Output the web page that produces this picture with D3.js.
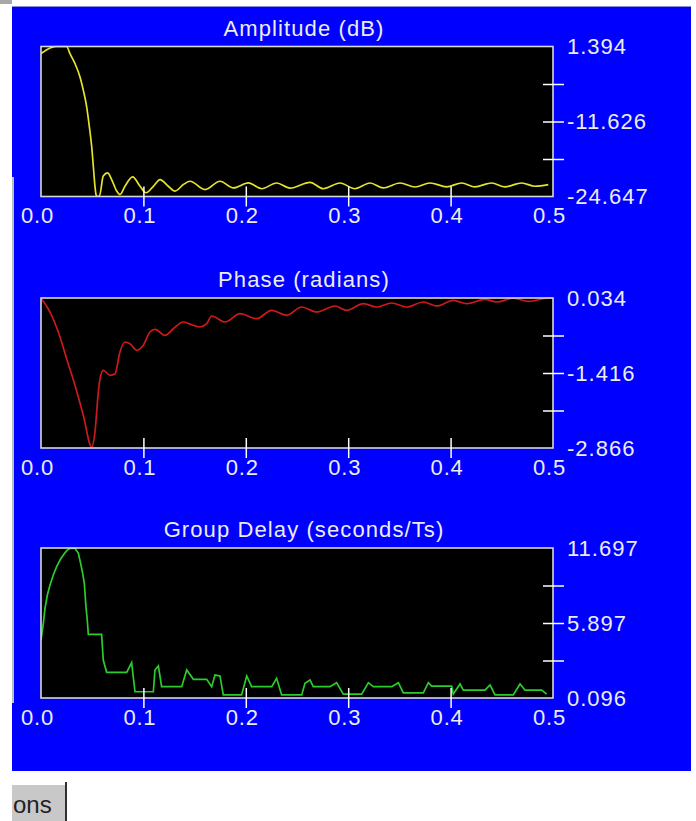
<!DOCTYPE html>
<html>
<head>
<meta charset="utf-8">
<script src="https://cdn.jsdelivr.net/npm/d3@7"></script>
<style>
  body { margin: 0; background: #fff; overflow: hidden; }
</style>
</head>
<body>
<script>
// shared frequency axis (normalised, 0 .. 0.5)
const freqTicks = [0, 0.1, 0.2, 0.3, 0.4, 0.5]

// amplitude response (dB)
const ampFreq = [0, 0.0056, 0.0104, 0.015, 0.025, 0.0283, 0.0332, 0.0381, 0.0413, 0.0446,
  0.0472, 0.0495, 0.0511, 0.0527, 0.0537, 0.0545, 0.057, 0.0608, 0.0651, 0.069,
  0.0739, 0.0771, 0.082, 0.0895, 0.0967, 0.1025, 0.1097, 0.1162, 0.1243, 0.1309,
  0.139, 0.1455, 0.1602, 0.1748, 0.1878, 0.2025, 0.2155, 0.230, 0.2432, 0.2627,
  0.2757, 0.292, 0.3066, 0.3213, 0.3343, 0.3506, 0.3652, 0.3799, 0.3962, 0.4108,
  0.4238, 0.4401, 0.4531, 0.4694, 0.4824, 0.4954]
const ampDb = [0.15, 0.83, 1.25, 1.39, 1.39, 0.14, -1.59, -3.9, -6.19, -9.07,
  -12.5, -15.97, -19.4, -22.87, -24.3, -24.6, -24.6, -21.1, -20.56, -21.7,
  -23.7, -24.3, -22.87, -21.25, -22.87, -24.0, -22.87, -21.7, -22.87, -23.7,
  -22.58, -22.0, -23.44, -22.0, -23.15, -22.29, -23.3, -22.3, -23.2, -22.18,
  -23.3, -22.3, -23.3, -22.3, -23.15, -22.3, -23.0, -22.3, -22.97, -22.3,
  -22.97, -22.3, -22.97, -22.3, -22.87, -22.58]
const ampDomain = [-24.647, 1.394]
const ampLabels = ['1.394', '-11.626', '-24.647']

// phase response (radians)
const phaseFreq = [0, 0.0088, 0.0169, 0.025, 0.0332, 0.0413, 0.0495, 0.0527, 0.056, 0.0576,
  0.0608, 0.0674, 0.0723, 0.0771, 0.082, 0.0869, 0.0934, 0.0999, 0.1064, 0.1113,
  0.1211, 0.1292, 0.139, 0.1455, 0.1553, 0.1618, 0.1667, 0.1797, 0.1943, 0.2106,
  0.2253, 0.2399, 0.2546, 0.2692, 0.2871, 0.2985, 0.3148, 0.3278, 0.3425, 0.3571,
  0.3734, 0.3864, 0.4026, 0.4157, 0.4336, 0.445, 0.4612, 0.4759, 0.4938, 0.5]
const phaseRad = [0.03, -0.237, -0.623, -1.139, -1.654, -2.234, -2.85, -2.557, -1.78, -1.53,
  -1.364, -1.46, -1.43, -1.01, -0.817, -0.85, -0.978, -0.88, -0.623, -0.572,
  -0.688, -0.56, -0.43, -0.47, -0.527, -0.463, -0.314, -0.43, -0.269, -0.366,
  -0.204, -0.3, -0.14, -0.237, -0.121, -0.204, -0.076, -0.14, -0.063, -0.14,
  -0.043, -0.12, -0.011, -0.076, 0.009, -0.043, 0.03, -0.03, 0.03, 0.034]
const phaseDomain = [-2.866, 0.034]
const phaseLabels = ['0.034', '-1.416', '-2.866']

// group delay (seconds/Ts)
const gdFreq = [0, 0.0023, 0.0039, 0.0062, 0.0088, 0.012, 0.0153, 0.0186, 0.0218, 0.0251,
  0.0283, 0.0332, 0.0365, 0.0387, 0.0407, 0.0423, 0.0439, 0.0452,
  0.0462, 0.0592, 0.0608, 0.0641, 0.0837, 0.0885, 0.0918, 0.1097, 0.1113, 0.1146,
  0.1178, 0.1374, 0.1423, 0.1488, 0.1618, 0.1667, 0.1699, 0.1748, 0.178, 0.1959,
  0.2009, 0.2057, 0.2253, 0.2301, 0.235, 0.2546, 0.2578, 0.2627, 0.2659, 0.2822,
  0.2887, 0.2952, 0.3132, 0.3197, 0.3245, 0.3425, 0.349, 0.3538, 0.3734, 0.3783,
  0.3815, 0.401, 0.4026, 0.4092, 0.4124, 0.4336, 0.4385, 0.4434, 0.4612, 0.4678,
  0.4727, 0.4889, 0.4938]
const gdDelay = [4.58, 5.87, 7.03, 8.06, 8.84, 9.61, 10.25, 10.77, 11.16, 11.49,
  11.67, 11.67, 11.29, 10.51, 9.74, 8.97, 7.16, 6.13,
  5.02, 5.02, 3.03, 2.08, 2.08, 2.83, 0.58, 0.58, 2.26, 2.57,
  0.97, 0.97, 2.26, 1.54, 1.54, 0.97, 1.87, 1.8, 0.33, 0.33,
  1.8, 0.97, 0.97, 1.62, 0.33, 0.33, 1.23, 1.49, 0.97, 0.97,
  1.28, 0.4, 0.4, 1.28, 0.97, 0.97, 1.28, 0.5, 0.5, 1.28,
  1.02, 1.02, 0.4, 1.18, 0.7, 0.7, 1.1, 0.33, 0.33, 1.18,
  0.7, 0.7, 0.4]
const gdDomain = [0.096, 11.697]
const gdLabels = ['11.697', '5.897', '0.096']

const width = 696
const height = 821
const plotLeft = 41
const plotRight = 553
const plotH = 150
const textColor = '#ececec'
const fontFamily = 'Arial, "Liberation Sans", sans-serif'

const svg = d3.select('body').append('svg')
    .attr('width', width)
    .attr('height', height)

// blue panel + window bits around it
svg.append('rect')
    .attr('x', 0).attr('y', 0)
    .attr('width', 12).attr('height', 4)
    .attr('fill', '#a8a8a8')
svg.append('rect')
    .attr('x', 12).attr('y', 6)
    .attr('width', 679).attr('height', 765)
    .attr('fill', '#0000ff')
svg.append('line')
    .attr('x1', 12).attr('x2', 691)
    .attr('y1', 6.5).attr('y2', 6.5)
    .attr('stroke', '#8c8cd0')
svg.append('rect')
    .attr('x', 12).attr('y', 177)
    .attr('width', 2).attr('height', 526)
    .attr('fill', '#bcbcbc')

// the cut-off "Options" button under the panel
svg.append('rect')
    .attr('x', 12).attr('y', 785)
    .attr('width', 54).attr('height', 36)
    .attr('fill', '#c8c8c8')
svg.append('rect')
    .attr('x', 65).attr('y', 782)
    .attr('width', 2).attr('height', 39)
    .attr('fill', '#303030')
svg.append('text')
    .attr('x', 13).attr('y', 813)
    .attr('font-family', fontFamily)
    .attr('font-size', 24)
    .attr('fill', '#222')
    .text('ons')

const xScale = d3.scaleLinear()
    .domain([0, 0.5])
    .range([plotLeft, plotRight])

function drawPlot(top, title, freq, values, yDomain, yLabels, color, curve, id) {
    const yScale = d3.scaleLinear()
        .domain(yDomain)
        .range([top + plotH, top])
    const g = svg.append('g')

    g.append('rect')
        .attr('x', plotLeft).attr('y', top)
        .attr('width', plotRight - plotLeft).attr('height', plotH)
        .attr('fill', '#000')

    g.append('text')
        .attr('x', 304)
        .attr('y', top - 11)
        .attr('text-anchor', 'middle')
        .attr('font-family', fontFamily)
        .attr('font-size', 22)
        .attr('letter-spacing', 1.1)
        .attr('fill', textColor)
        .text(title)

    g.append('clipPath').attr('id', id)
        .append('rect')
        .attr('x', plotLeft).attr('y', top - 1)
        .attr('width', plotRight - plotLeft).attr('height', plotH + 2)

    const line = d3.line()
        .x((d, i) => xScale(freq[i]))
        .y(d => yScale(d))
        .curve(curve)
    g.append('path')
        .datum(values)
        .attr('clip-path', `url(#${id})`)
        .attr('d', line)
        .attr('fill', 'none')
        .attr('stroke', color)
        .attr('stroke-width', 1.7)

    g.append('rect')
        .attr('x', plotLeft).attr('y', top)
        .attr('width', plotRight - plotLeft).attr('height', plotH)
        .attr('fill', 'none')
        .attr('stroke', '#d8d8d8')
        .attr('stroke-width', 1.6)

    // x axis: ticks cross the bottom border
    const xAxis = d3.axisBottom(xScale)
        .tickValues(freqTicks)
        .tickFormat(d3.format('.1f'))
        .tickSize(20)
        .tickPadding(1)
    const gx = g.append('g')
        .attr('transform', `translate(0,${top + plotH - 10})`)
        .call(xAxis)
    gx.select('.domain').remove()
    gx.attr('font-size', 22).attr('font-family', fontFamily).attr('color', textColor)
    gx.selectAll('.tick line')
        .attr('stroke', '#fff')
        .attr('stroke-width', 1.5)
        .attr('display', (d, i) => (i === 0 || i === freqTicks.length - 1) ? 'none' : null)
    gx.selectAll('.tick text')
        .attr('dx', -4)
        .attr('letter-spacing', 0.8)

    // y axis on the right: five ticks, three labels
    const lo = yDomain[0], hi = yDomain[1]
    const yTicks = d3.range(5).map(i => hi - (hi - lo) * i / 4)
    const yAxis = d3.axisRight(yScale)
        .tickValues(yTicks)
        .tickFormat((d, i) => i % 2 === 0 ? yLabels[i / 2] : '')
        .tickSize(21)
        .tickPadding(3)
    const gy = g.append('g')
        .attr('transform', `translate(${plotRight - 10},0)`)
        .call(yAxis)
    gy.select('.domain').remove()
    gy.attr('font-size', 22).attr('font-family', fontFamily).attr('color', textColor)
    gy.selectAll('.tick line')
        .attr('stroke', '#fff')
        .attr('stroke-width', 1.5)
        .attr('display', (d, i) => (i === 0 || i === 4) ? 'none' : null)
    gy.selectAll('.tick text')
        .attr('letter-spacing', 1)
}

drawPlot(46.5, 'Amplitude (dB)', ampFreq, ampDb, ampDomain, ampLabels, '#e4e42a', d3.curveMonotoneX, 'clipAmp')
drawPlot(298, 'Phase (radians)', phaseFreq, phaseRad, phaseDomain, phaseLabels, '#cc1a1a', d3.curveMonotoneX, 'clipPhase')
drawPlot(548, 'Group Delay (seconds/Ts)', gdFreq, gdDelay, gdDomain, gdLabels, '#2ccc2c', d3.curveLinear, 'clipGd')
</script>
</body>
</html>
